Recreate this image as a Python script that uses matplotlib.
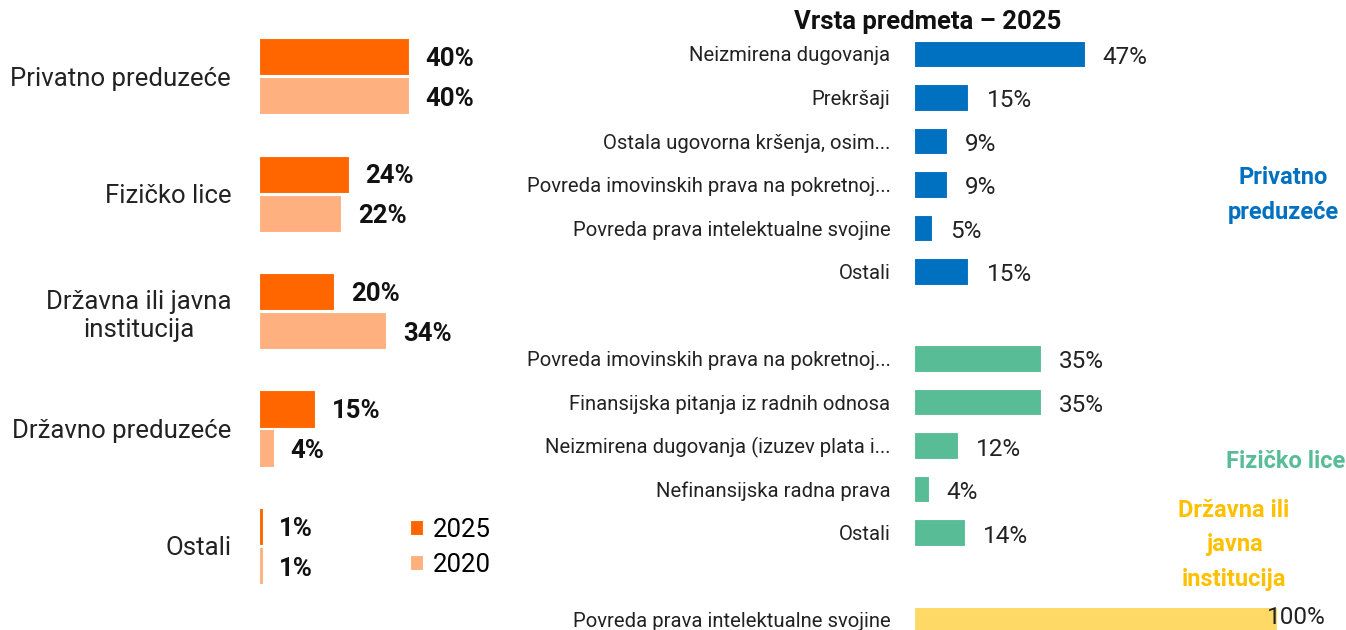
import matplotlib.pyplot as plt
from matplotlib import font_manager

plt.rcParams['font.family'] = ['Roboto', 'DejaVu Sans']
names = {f.name for f in font_manager.fontManager.ttflist}
narrow = ['Liberation Sans Narrow', 'Roboto', 'DejaVu Sans'] if 'Liberation Sans Narrow' in names else ['Roboto', 'DejaVu Sans']

# left panel: who is the party
parties = ['Privatno preduzeće', 'Fizičko lice', 'Državna ili javna\ninstitucija',
           'Državno preduzeće', 'Ostali']
share_2025 = [40, 24, 20, 15, 1]
share_2020 = [40, 22, 34, 4, 1]

# right panel: case types 2025 per party group
blue_cats = ['Neizmirena dugovanja', 'Prekršaji', 'Ostala ugovorna kršenja, osim...',
             'Povreda imovinskih prava na pokretnoj...', 'Povreda prava intelektualne svojine',
             'Ostali']
blue_vals = [47, 15, 9, 9, 5, 15]
green_cats = ['Povreda imovinskih prava na pokretnoj...', 'Finansijska pitanja iz radnih odnosa',
              'Neizmirena dugovanja (izuzev plata i...', 'Nefinansijska radna prava', 'Ostali']
green_vals = [35, 35, 12, 4, 14]
yellow_cats = ['Povreda prava intelektualne svojine']
yellow_vals = [100]

c25, c20 = '#FF6600', '#FFB07E'
cblue, cgreen, cyellow, cyellow_txt = '#0070C0', '#58BD97', '#FFD966', '#FFC000'

W, H = 1346, 630
fig = plt.figure(figsize=(W / 100, H / 100), dpi=100)

# ---- left
axl = fig.add_axes([259 / W, 0, 241 / W, 1])
pos = list(range(len(parties)))
off, bh = 0.166, 0.315
b1 = axl.barh([p - off for p in pos], share_2025, height=bh, color=c25, edgecolor='white', linewidth=0.8, label='2025')
b2 = axl.barh([p + off for p in pos], share_2020, height=bh, color=c20, edgecolor='white', linewidth=0.8, label='2020')
for bars, vals, dy in ((b1, share_2025, -1.5), (b2, share_2020, -2.5)):
    for b, v in zip(bars, vals):
        axl.annotate(f'{v}%', (b.get_width(), b.get_y() + b.get_height() / 2),
                     xytext=(12, dy), textcoords='offset points', va='center', ha='left',
                     fontsize=18.5, fontweight='bold', color='#111111')
axl.set_xlim(0, 64.3)
axl.set_ylim(4.715, -0.647)
axl.set_yticks(pos, parties, fontsize=18.5, color='#222222')
for t in axl.get_yticklabels():
    t.set_multialignment('center')
    t.set_linespacing(1.25)
axl.tick_params(axis='y', length=0, pad=20)
axl.set_xticks([])
for s in axl.spines.values():
    s.set_visible(False)
axl.legend(loc='upper left', bbox_to_anchor=(397 / W, 1 - 505 / H), bbox_transform=fig.transFigure,
           frameon=False, fontsize=18.5, handlelength=0.5, handleheight=0.5,
           handletextpad=0.4, labelspacing=0.42, borderpad=0)

# ---- right
axr = fig.add_axes([914 / W, 0, (W - 914) / W, 1])
groups = [(blue_cats, blue_vals, cblue, 0), (green_cats, green_vals, cgreen, 7),
          (yellow_cats, yellow_vals, cyellow, 13)]
ticks, tlabels = [], []
for cats, vals, col, start in groups:
    ys = [start + i for i in range(len(cats))]
    bars = axr.barh(ys, vals, height=0.6, color=col, edgecolor='white', linewidth=0.8)
    for b, v in zip(bars, vals):
        x = b.get_width()
        yc = b.get_y() + b.get_height() / 2
        if v >= 100:
            # no room after the bar: keep it inside the figure
            axr.annotate(f'{v}%', (113.5, yc), xytext=(0, 1.5), textcoords='offset points',
                         ha='right', va='center', fontsize=17.5, color='#222222', family=narrow)
        else:
            axr.annotate(f'{v}%', (x, yc), xytext=(13, -2.5),
                         textcoords='offset points', va='center', ha='left',
                         fontsize=17.5, color='#222222', family=narrow)
    ticks += ys
    tlabels += cats
axr.set_xlim(0, 119)
axr.set_ylim(13.24, -1.241)
axr.set_yticks(ticks, tlabels, fontsize=14.6, color='#222222', family=narrow)
axr.tick_params(axis='y', length=0, pad=17)
axr.set_xticks([])
for s in axr.spines.values():
    s.set_visible(False)

fig.text(928 / W, 1 - 22 / H, 'Vrsta predmeta – 2025', ha='center', va='center',
         fontsize=18.5, fontweight='bold', color='#111111', family=narrow)
fig.text(1283 / W, 1 - 195 / H, 'Privatno\npreduzeće', ha='center', va='center', fontsize=17,
         fontweight='bold', color=cblue, linespacing=1.65, family=narrow)
fig.text(1286 / W, 1 - 461 / H, 'Fizičko lice', ha='center', va='center', fontsize=17,
         fontweight='bold', color=cgreen, family=narrow)
fig.text(1234 / W, 1 - 545 / H, 'Državna ili\njavna\ninstitucija', ha='center', va='center',
         fontsize=17, fontweight='bold', color=cyellow_txt, linespacing=1.65, family=narrow)

fig.savefig('out.png', dpi=100)
